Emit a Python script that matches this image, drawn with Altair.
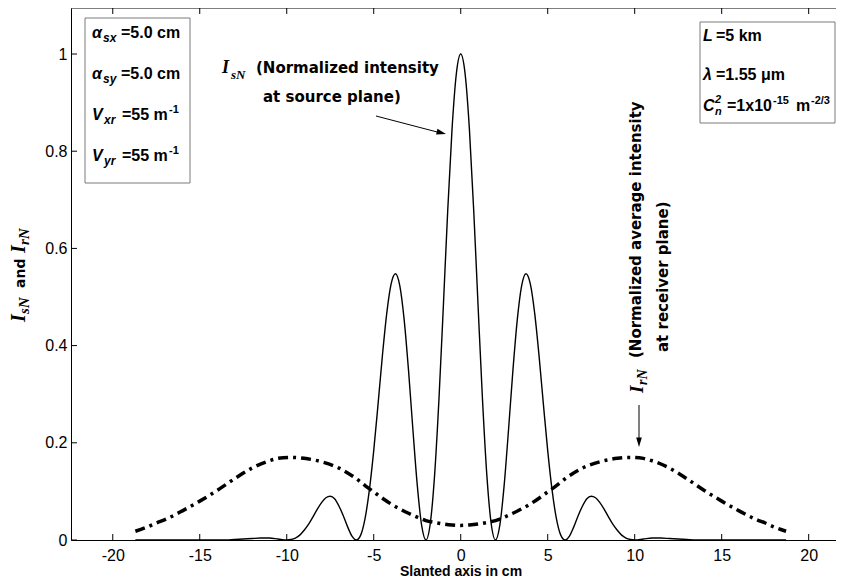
import altair as alt
import pandas as pd

# ---------------- data ----------------
# I_sN : normalized intensity at source plane (solid)
x_s = [-18.7, -18.0, -17.0, -16.0, -15.0, -14.0, -13.5, -13.0, -12.5, -12.0, -11.5, -11.0, -10.5, -10.0,
       -9.75, -9.5, -9.25, -9.0, -8.75, -8.5, -8.25, -8.0, -7.75, -7.5, -7.25, -7.0, -6.75, -6.5, -6.25, -6.0,
       -5.75, -5.5, -5.25, -5.0, -4.75, -4.5, -4.25, -4.0, -3.75, -3.5, -3.25, -3.0, -2.75, -2.5, -2.25, -2.0,
       -1.75, -1.5, -1.25, -1.0, -0.75, -0.5, -0.25, 0.0, 0.25, 0.5, 0.75, 1.0, 1.25, 1.5, 1.75, 2.0,
       2.25, 2.5, 2.75, 3.0, 3.25, 3.5, 3.75, 4.0, 4.25, 4.5, 4.75, 5.0, 5.25, 5.5, 5.75, 6.0,
       6.25, 6.5, 6.75, 7.0, 7.25, 7.5, 7.75, 8.0, 8.25, 8.5, 8.75, 9.0, 9.25, 9.5, 9.75,
       10.0, 10.5, 11.0, 11.5, 12.0, 12.5, 13.0, 13.5, 14.0, 15.0, 16.0, 17.0, 18.0, 18.7]
y_s = [0.000, 0.000, 0.000, 0.000, 0.000, 0.000, 0.000, 0.001, 0.002, 0.003, 0.004, 0.004, 0.002, 0.000,
       0.001, 0.004, 0.010, 0.020, 0.032, 0.047, 0.063, 0.077, 0.087, 0.090, 0.085, 0.070, 0.050, 0.027, 0.008, 0.000,
       0.010, 0.044, 0.103, 0.184, 0.280, 0.380, 0.467, 0.527, 0.548, 0.523, 0.453, 0.349, 0.228, 0.114, 0.031, 0.000,
       0.034, 0.134, 0.290, 0.480, 0.676, 0.845, 0.960, 1.000, 0.960, 0.845, 0.676, 0.480, 0.290, 0.134, 0.034, 0.000,
       0.031, 0.114, 0.228, 0.349, 0.453, 0.523, 0.548, 0.527, 0.467, 0.380, 0.280, 0.184, 0.103, 0.044, 0.010, 0.000,
       0.008, 0.027, 0.050, 0.070, 0.085, 0.090, 0.087, 0.077, 0.063, 0.047, 0.032, 0.020, 0.010, 0.004, 0.001,
       0.000, 0.002, 0.004, 0.004, 0.003, 0.002, 0.001, 0.000, 0.000, 0.000, 0.000, 0.000, 0.000, 0.000]

# I_rN : normalized average intensity at receiver plane (dash-dot)
x_r = [-18.7, -18.0, -17.5, -17.0, -16.0, -15.0, -14.0, -13.0, -12.0, -11.0, -10.5, -9.75, -9.0, -8.0,
       -7.0, -6.0, -5.5, -5.0, -4.5, -4.0, -3.5, -3.0, -2.5, -2.0, -1.5, -1.0, -0.5, 0.0,
       0.5, 1.0, 1.5, 2.0, 2.5, 3.0, 3.5, 4.0, 4.5, 5.0, 5.5, 6.0, 7.0, 8.0, 9.0, 9.75,
       10.5, 11.0, 12.0, 13.0, 14.0, 15.0, 16.0, 17.0, 17.5, 18.0, 18.7]
y_r = [0.018, 0.027, 0.035, 0.042, 0.060, 0.080, 0.102, 0.126, 0.148, 0.163, 0.168, 0.170, 0.168, 0.161,
       0.148, 0.126, 0.112, 0.099, 0.086, 0.074, 0.064, 0.055, 0.047, 0.040, 0.036, 0.033, 0.031, 0.030,
       0.031, 0.033, 0.036, 0.040, 0.047, 0.055, 0.064, 0.074, 0.086, 0.099, 0.112, 0.126, 0.148, 0.161, 0.168, 0.170,
       0.168, 0.163, 0.148, 0.126, 0.102, 0.080, 0.060, 0.042, 0.035, 0.027, 0.018]

x_ticks = [-20, -15, -10, -5, 0, 5, 10, 15, 20]
y_ticks = [0, 0.2, 0.4, 0.6, 0.8, 1]

# ---------------- layout ----------------
W, H = 765, 532          # plot area
OX, OY = 71, 8           # page position of plot origin
XDOM = [-22.4, 21.57]
YDOM = [0, 1.0947]

xs = alt.Scale(domain=XDOM, nice=False, zero=False)
ys = alt.Scale(domain=YDOM, nice=False, zero=False)

xaxis = alt.Axis(values=x_ticks, title=None, grid=False, ticks=False, tickSize=0,
                 labelExpr="'' + datum.value", labelFont="Liberation Sans", labelFontSize=16,
                 labelColor="black", labelPadding=20, labelBaseline="alphabetic",
                 domainColor="black", domainWidth=1, labelFlush=False)
yaxis = alt.Axis(values=y_ticks, title=None, grid=False, ticks=False, tickSize=0,
                 labelExpr="'' + datum.value", labelFont="Liberation Sans", labelFontSize=16,
                 labelColor="black", labelPadding=4, domainColor="black", domainWidth=1,
                 labelFlush=False)


def X(f="x"):
    return alt.X(f + ":Q", scale=xs, axis=xaxis)


def Y(f="y"):
    return alt.Y(f + ":Q", scale=ys, axis=yaxis)


one = pd.DataFrame({"a": [0]})

df_s = pd.DataFrame({"x": x_s, "y": y_s})
df_r = pd.DataFrame({"x": x_r, "y": y_r})

solid = alt.Chart(df_s).mark_line(color="black", strokeWidth=1.4, interpolate="monotone").encode(x=X(), y=Y())
dashdot = alt.Chart(df_r).mark_line(color="black", strokeWidth=3.5, strokeDash=[10, 5, 3, 5],
                                    interpolate="monotone").encode(x=X(), y=Y())

tkx = pd.DataFrame({"x": x_ticks})
tky = pd.DataFrame({"y": y_ticks})
ticks_bottom = alt.Chart(tkx).mark_rule(color="black", strokeWidth=1).encode(
    x=X(), y=alt.value(H), y2=alt.value(H - 6))
ticks_top = alt.Chart(tkx).mark_rule(color="black", strokeWidth=1).encode(
    x=X(), y=alt.value(0), y2=alt.value(6))
ticks_left = alt.Chart(tky).mark_rule(color="black", strokeWidth=1).encode(
    y=Y(), x=alt.value(0), x2=alt.value(6))
frame_top = alt.Chart(one).mark_rule(color="black", strokeWidth=1).encode(
    x=alt.value(0), x2=alt.value(W), y=alt.value(0))


def T(s, px, py, size, font="DejaVu Sans", weight="bold", style="normal", angle=0, align="left"):
    return alt.Chart(pd.DataFrame({"t": [s]})).mark_text(
        font=font, fontSize=size, fontWeight=weight, fontStyle=style, angle=angle,
        align=align, baseline="alphabetic", color="black").encode(
        x=alt.value(px - OX), y=alt.value(py - OY), text="t:N")


def BOX(x1, y1, x2, y2):
    return alt.Chart(one).mark_rect(fill="white", stroke="#7a7a7a", strokeWidth=1).encode(
        x=alt.value(x1 - OX), x2=alt.value(x2 - OX), y=alt.value(y1 - OY), y2=alt.value(y2 - OY))


def RULE(x1, y1, x2, y2):
    return alt.Chart(one).mark_rule(color="black", strokeWidth=1).encode(
        x=alt.value(x1 - OX), x2=alt.value(x2 - OX), y=alt.value(y1 - OY), y2=alt.value(y2 - OY))


def HEAD(px, py, ang):
    return alt.Chart(one).mark_point(shape="M1,0 L-1,-0.6 L-1,0.6 Z", filled=True, color="black",
                                     opacity=1, size=90, angle=ang).encode(
        x=alt.value(px - OX), y=alt.value(py - OY))


LS = "Liberation Sans"
SERIF = "Liberation Serif"
texts = []

# x-axis title
texts.append(T("Slanted axis in cm", 461, 576, 14, font=LS, align="center"))

# y-axis title (rotated)
texts += [
    T("I", 25, 322, 20, font=SERIF, style="italic", angle=270),
    T("sN", 29, 314, 15, font=SERIF, style="italic", angle=270),
    T("and", 25, 288, 14, angle=270),
    T("I", 25, 253, 20, font=SERIF, style="italic", angle=270),
    T("rN", 29, 245, 15, font=SERIF, style="italic", angle=270),
]

# annotation: source plane
texts += [
    T("I", 222, 73, 18, font=SERIF, style="italic"),
    T("sN", 231, 79, 13, font=SERIF, style="italic"),
    T("(Normalized intensity", 256, 73, 15),
    T("at source plane)", 263, 102, 15),
]
arrows = [RULE(376, 116, 441, 133), HEAD(441.4, 132.8, 14.4)]

# annotation: receiver plane (rotated)
texts += [
    T("I", 643, 393, 19, font=SERIF, style="italic", angle=270),
    T("rN", 647, 385, 14, font=SERIF, style="italic", angle=270),
    T("(Normalized average intensity", 641, 358, 15, angle=270),
    T("at receiver plane)", 668, 352, 15, angle=270),
]
arrows += [RULE(639, 405, 639, 442), HEAD(639, 442.3, 90)]

# parameter boxes
boxes = [BOX(85, 18, 190, 183), BOX(700, 22, 835, 123)]
lb = [38, 79, 120, 161]
texts += [
    T("α", 92, lb[0], 16, font=LS, style="italic"),
    T("sx", 103, lb[0] + 4, 12, font=LS, style="italic"),
    T("=5.0 cm", 121, lb[0], 16, font=LS),
    T("α", 92, lb[1], 16, font=LS, style="italic"),
    T("sy", 103, lb[1] + 4, 12, font=LS, style="italic"),
    T("=5.0 cm", 121, lb[1], 16, font=LS),
    T("V", 92, lb[2], 16, font=LS, style="italic"),
    T("xr", 104, lb[2] + 4, 12, font=LS, style="italic"),
    T("=55 m", 122, lb[2], 16, font=LS),
    T("-1", 169, lb[2] - 7, 11, font=LS),
    T("V", 92, lb[3], 16, font=LS, style="italic"),
    T("yr", 104, lb[3] + 4, 12, font=LS, style="italic"),
    T("=55 m", 122, lb[3], 16, font=LS),
    T("-1", 169, lb[3] - 7, 11, font=LS),
]

rb = [41, 80, 111]
texts += [
    T("L", 703, rb[0], 16, font=LS, style="italic"),
    T("=5 km", 716, rb[0], 16, font=LS),
    T("λ", 703, rb[1], 16, font=LS, style="italic"),
    T("=1.55 μm", 716, rb[1], 16, font=LS),
    T("C", 703, rb[2], 16, font=LS, style="italic"),
    T("n", 715, rb[2] + 4, 11, font=LS, style="italic"),
    T("2", 715, rb[2] - 8, 11, font=LS, style="italic"),
    T("=1x10", 727, rb[2], 16, font=LS),
    T("-15", 773, rb[2] - 7, 11, font=LS),
    T("m", 796, rb[2], 16, font=LS),
    T("-2/3", 811, rb[2] - 7, 11, font=LS),
]

chart = alt.layer(
    dashdot, solid, ticks_bottom, ticks_top, ticks_left, frame_top, *boxes, *arrows, *texts
).properties(
    width=W, height=H,
    autosize=alt.AutoSizeParams(type="none"),
    padding={"left": 63, "top": 0, "right": 0, "bottom": 40},
    background="white",
).configure_view(stroke=None)

chart.save("out.html", embed_options={"renderer": "svg", "actions": False})
